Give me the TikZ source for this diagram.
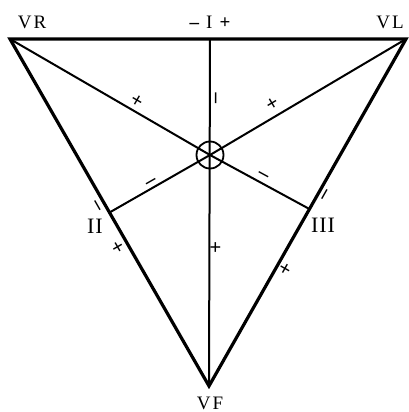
\documentclass[tikz,border=0pt]{standalone}
\usepackage{fontspec}
\setmainfont{Liberation Serif}
\usetikzlibrary{positioning,calc}
\tikzset{
  sideline/.style={line width=3.2pt, line join=miter},
  axisline/.style={line width=2pt},
  vertlabel/.style={font=\fontsize{19}{21}\selectfont, inner sep=0pt},
  romanlabel/.style={font=\fontsize{22}{24}\selectfont, inner sep=0pt},
  signmark/.style={font=\bfseries\fontsize{21}{22}\selectfont, inner sep=0pt, sloped}
}

\begin{document}
\begin{tikzpicture}[x=1pt, y=-1pt]
  \useasboundingbox (0,0) rectangle (408,412);
  % corners of the triangle and the centre
  \coordinate (vr) at (10,39);
  \coordinate (vl) at (406,39);
  \coordinate (vf) at (209,386);
  \coordinate (top) at (210,39);
  \coordinate (ctr) at (210,155);
  \coordinate (pII) at ($(vr)!0.5!(vf)$);
  \coordinate (pIII) at ($(vl)!0.49!(vf)$);

  \draw[sideline] (vr) -- (vl) -- (vf) -- cycle;
  \draw[axisline] (top) -- (vf);
  \draw[axisline] (vr) -- (ctr);
  \draw[axisline] (vl) -- (ctr);
  \draw[axisline] (ctr) -- (pII);
  \draw[axisline] (ctr) -- (pIII);
  \node[draw, circle, line width=1.8pt, minimum size=27pt, inner sep=0pt] (ring) at (ctr) {};

  % signs along the lines
  \path (vr) -- (ctr) node[signmark, pos=0.61, above=3pt] (m1) {+};
  \path (vl) -- (ctr) node[signmark, pos=0.65, above=6pt] (m2) {+};
  \path (top) -- (vf) node[signmark, pos=0.17, below=5pt] (m3) {--};
  \path (top) -- (vf) node[signmark, pos=0.60, below=1pt] (m4) {+};
  \path (ctr) -- (pII) node[signmark, pos=0.56, above=1pt] (m5) {--};
  \path (ctr) -- (pIII) node[signmark, pos=0.50, above=3pt] (m6) {--};
  \path (vr) -- (vf) node[signmark, pos=0.47, below=6pt] (m7) {--};
  \path (vr) -- (vf) node[signmark, pos=0.585, below=5pt] (m8) {+};
  \path (vl) -- (vf) node[signmark, pos=0.44, below=5pt] (m9) {--};
  \path (vl) -- (vf) node[signmark, pos=0.65, below=3pt] (m10) {+};

  % labels
  \node[vertlabel] (lvr) at (32,22) {V\kern2pt R};
  \node[vertlabel] (lvl) at (390,22) {V\kern2pt L};
  \node[vertlabel] (lI) at (210,22) {\textbf{--}\kern7pt I\kern7pt\textbf{+}};
  \node[vertlabel, anchor=base] (lvf) at (210,409) {V\kern2pt F};
  \node[romanlabel] (lII) at (95,226) {I\kern1pt I};
  \node[romanlabel] (lIII) at (323,225) {I\kern1pt I\kern1pt I};
\end{tikzpicture}
\end{document}
